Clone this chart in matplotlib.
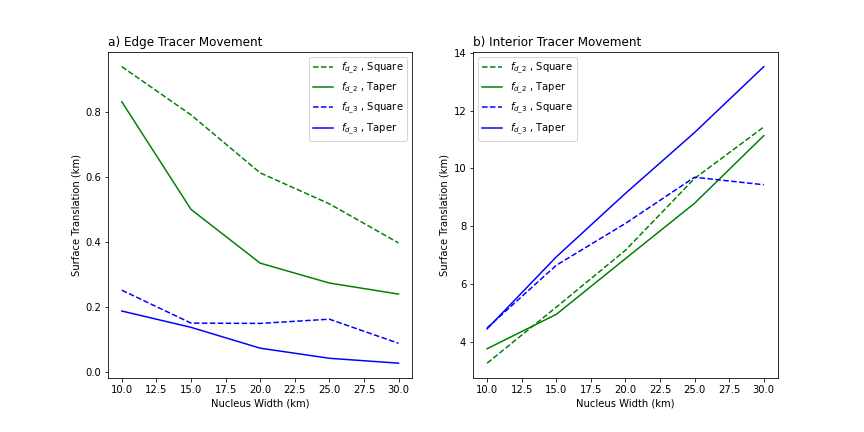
import matplotlib
matplotlib.use('Agg')
import matplotlib.pyplot as plt

widths = [10, 15, 20, 25, 30]

# a) edge tracers
edge_d2_square = [0.938, 0.79, 0.612, 0.517, 0.397]
edge_d2_taper = [0.83, 0.50, 0.335, 0.274, 0.24]
edge_d3_square = [0.252, 0.151, 0.15, 0.163, 0.089]
edge_d3_taper = [0.188, 0.138, 0.074, 0.043, 0.028]

# b) interior tracers
int_d2_square = [3.25, 5.19, 7.16, 9.65, 11.43]
int_d2_taper = [3.75, 4.94, 6.87, 8.79, 11.13]
int_d3_square = [4.47, 6.64, 8.09, 9.69, 9.43]
int_d3_taper = [4.44, 6.93, 9.13, 11.24, 13.52]

labels = [r'$f_{d\_2}$ , Square', r'$f_{d\_2}$ , Taper',
          r'$f_{d\_3}$ , Square', r'$f_{d\_3}$ , Taper']

fig, (ax1, ax2) = plt.subplots(1, 2, figsize=(12, 6), dpi=72)
fig.subplots_adjust(bottom=0.125, top=0.88)

ax1.plot(widths, edge_d2_square, 'g--', label=labels[0])
ax1.plot(widths, edge_d2_taper, 'g-', label=labels[1])
ax1.plot(widths, edge_d3_square, 'b--', label=labels[2])
ax1.plot(widths, edge_d3_taper, 'b-', label=labels[3])
ax1.set_title('a) Edge Tracer Movement', loc='left')
ax1.set_xlabel('Nucleus Width (km)')
ax1.set_ylabel('Surface Translation (km)')
ax1.legend(loc='upper right')

ax2.plot(widths, int_d2_square, 'g--', label=labels[0])
ax2.plot(widths, int_d2_taper, 'g-', label=labels[1])
ax2.plot(widths, int_d3_square, 'b--', label=labels[2])
ax2.plot(widths, int_d3_taper, 'b-', label=labels[3])
ax2.set_title('b) Interior Tracer Movement', loc='left')
ax2.set_xlabel('Nucleus Width (km)')
ax2.set_ylabel('Surface Translation (km)')
ax2.legend(loc='upper left')

plt.savefig('out.png')
